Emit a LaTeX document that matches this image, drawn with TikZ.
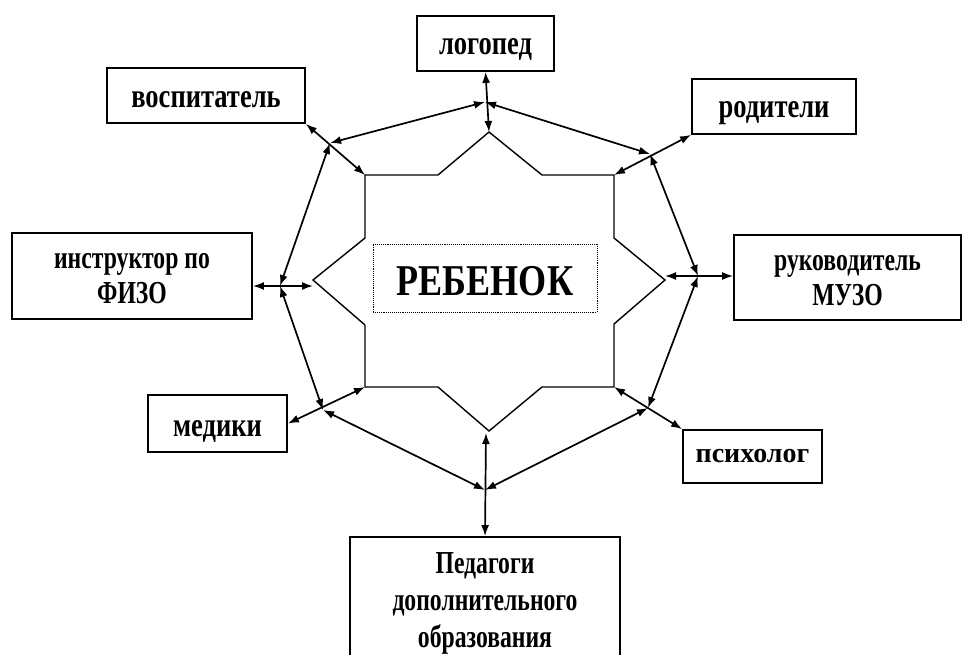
\documentclass[tikz,border=0pt]{standalone}
\usepackage{fontspec}
\setmainfont{Liberation Serif}
\newfontfamily\condfont[FakeStretch=0.78]{Liberation Serif}
\newfontfamily\narrowfont[FakeStretch=0.74]{Liberation Serif}
\newfontfamily\bigfont[FakeStretch=0.82]{Liberation Serif}
\newcommand\lowered[2]{\raisebox{-#1}[\height][\depth]{\begin{tabular}{@{}c@{}}#2\end{tabular}}}
\usetikzlibrary{arrows.meta}
\begin{document}
\begin{tikzpicture}[x=1pt,y=-1pt,
  box/.style={draw, line width=1.8pt, rectangle, inner sep=0pt,
              font=\condfont\bfseries\fontsize{34}{35}\selectfont},
  twoline/.style={box, font=\narrowfont\bfseries\fontsize{32}{35}\selectfont},
  link/.style={{Latex[length=11pt,width=8pt]}-{Latex[length=11pt,width=8pt]}, line width=1.7pt},
  starline/.style={draw, line width=1.4pt, line join=miter},
]
\useasboundingbox (0,0) rectangle (963,655);

% outer boxes
\node[box, minimum width=137pt, minimum height=55pt] (logo) at (485.5,43.5) {\lowered{4.5pt}{логопед}};
\node[box, minimum width=198pt, minimum height=55pt] (vosp) at (206,95.5) {\lowered{5.5pt}{воспитатель}};
\node[box, minimum width=164pt, minimum height=55pt] (rod) at (774,106.5) {\lowered{4.5pt}{родители}};
\node[twoline, minimum width=240pt, minimum height=86pt] (instr) at (132,276) {\lowered{2.5pt}{инструктор по\\ФИЗО}};
\node[twoline, minimum width=227pt, minimum height=85pt] (muzo) at (847.5,277.5) {\lowered{3pt}{руководитель\\МУЗО}};
\node[box, minimum width=139pt, minimum height=57pt] (med) at (217.5,423.5) {\lowered{5.5pt}{медики}};
\node[box, minimum width=139pt, minimum height=53pt,
      font=\bfseries\fontsize{28}{35}\selectfont] (psy) at (752.5,456.5) {\lowered{-1.5pt}{психолог}};
\node[twoline, minimum width=270pt, minimum height=132pt,
      font=\narrowfont\bfseries\fontsize{32}{37}\selectfont] (ped) at (485,603)
      {\lowered{0pt}{Педагоги\\дополнительного\\образования}};

% central star shape
\coordinate (sT)  at (489,132);
\coordinate (sTR) at (614,175);
\coordinate (sR)  at (665,280);
\coordinate (sBR) at (614,387);
\coordinate (sB)  at (489,431);
\coordinate (sBL) at (365,387);
\coordinate (sL)  at (313,280);
\coordinate (sTL) at (365,175);
\coordinate (sBa) at (486,433);
\draw[starline] (sTL) -- (438,175) -- (sT) -- (542,175) -- (sTR) -- (614,238) -- (sR)
  -- (614,324) -- (sBR) -- (542,387) -- (sB) -- (438,387) -- (sBL) -- (365,325)
  -- (sL) -- (365,238) -- cycle;

\node[draw, densely dotted, line width=0.9pt, minimum width=224pt, minimum height=68pt,
      inner sep=0pt, font=\bigfont\bfseries\fontsize{44}{46}\selectfont] (child) at (485,278)
      {\lowered{8pt}{РЕБЕНОК}};

% junctions of the ring
\coordinate (J1) at (485,102);
\coordinate (J2) at (650,154);
\coordinate (J3) at (698,276);
\coordinate (J4) at (648,408);
\coordinate (J5) at (485,490);
\coordinate (J6) at (323,410);
\coordinate (J7) at (280,286);
\coordinate (J8) at (330,143);

% ring of arrows
\draw[link] (J1) -- (J2);
\draw[link] (J2) -- (J3);
\draw[link] (J3) -- (J4);
\draw[link] (J4) -- (J5);
\draw[link] (J5) -- (J6);
\draw[link] (J6) -- (J7);
\draw[link] (J7) -- (J8);
\draw[link] (J8) -- (J1);

% radial arrows
\draw[link] (logo.south) -- (sT);
\draw[link] (rod.south west) -- (sTR);
\draw[link] (muzo.west |- J3) -- (sR |- J3);
\draw[link] (psy.north west) -- (sBR);
\draw[link] (ped.north) -- (sBa);
\draw[link] (med.east) -- (sBL);
\draw[link] (instr.east |- J7) -- (sL |- J7);
\draw[link] (vosp.south east) -- (sTL);
\end{tikzpicture}
\end{document}
